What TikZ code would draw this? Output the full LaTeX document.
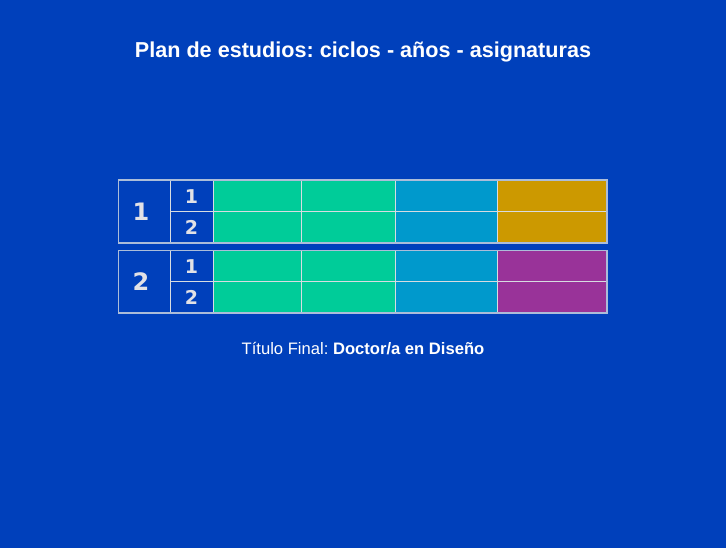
\documentclass[tikz,border=0pt]{standalone}
\usepackage{fontspec}
\setmainfont{Liberation Sans}
\newfontfamily\numfont{DejaVu Sans}
\frenchspacing
\definecolor{bg}{RGB}{0,64,187}
\definecolor{cgreen}{RGB}{0,204,153}
\definecolor{cblue}{RGB}{0,153,204}
\definecolor{cgold}{RGB}{204,153,0}
\definecolor{cpurple}{RGB}{153,51,153}
\definecolor{gridc}{RGB}{215,220,225}
\definecolor{numc}{RGB}{225,225,230}
\tikzset{
  cell/.style={draw=gridc, line width=0.9pt},
  outerbox/.style={draw=gridc!80!bg, line width=1.2pt},
  bignum/.style={text=numc, font=\numfont\bfseries\fontsize{24}{28}\selectfont},
  smallnum/.style={text=numc, font=\numfont\bfseries\fontsize{19}{22}\selectfont},
  txt/.style={text=white}
}
\begin{document}
\begin{tikzpicture}[x=1pt,y=-1pt]
\fill[bg] (0,0) rectangle (726,548);
\useasboundingbox (0,0) rectangle (726,548);
\node[txt, font=\bfseries\fontsize{21.6}{26}\selectfont] (title) at (363,52) {Plan de estudios: ciclos - años - asignaturas};
\foreach \yt/\yb/\lastc/\n in {180/243/cgold/1, 250.5/313/cpurple/2}{
  \pgfmathsetmacro{\ym}{(\yt+\yb)/2}
  \fill[cgreen] (213,\yt) rectangle (395,\yb);
  \fill[cblue] (395,\yt) rectangle (497,\yb);
  \fill[\lastc] (497,\yt) rectangle (607,\yb);
  \draw[cell] (170,\ym) -- (607,\ym);
  \draw[cell] (170,\yt) -- (170,\yb);
  \draw[cell] (213,\yt) -- (213,\yb);
  \draw[cell] (301,\yt) -- (301,\yb);
  \draw[cell] (395,\yt) -- (395,\yb);
  \draw[cell] (497,\yt) -- (497,\yb);
  \draw[outerbox] (118.5,\yt) rectangle (607,\yb);
  \node[bignum] at (141,\ym) {\n};
  \node[smallnum] at (191.5,{(\yt+\ym)/2+0.5}) {1};
  \node[smallnum] at (191.5,{(\ym+\yb)/2+0.5}) {2};
}
\node[txt, font=\fontsize{16.6}{20}\selectfont] (final) at (363,349) {Título Final: \textbf{Doctor/a en Diseño}};
\end{tikzpicture}
\end{document}
